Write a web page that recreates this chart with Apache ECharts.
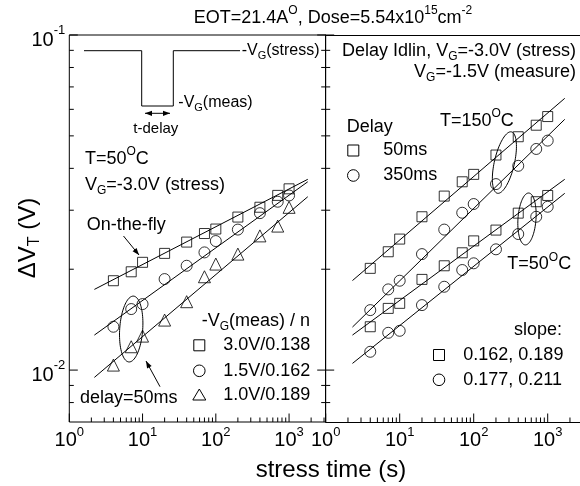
<!DOCTYPE html>
<html><head><meta charset="utf-8">
<script src="https://cdn.jsdelivr.net/npm/echarts@6/dist/echarts.min.js"></script>
<style>html,body{margin:0;padding:0;background:#fff}#c{width:580px;height:486px}</style>
</head><body><div id="c"></div>
<script>
// ---------- data ----------
const TIMES = [4, 7, 10, 20, 40, 70, 100, 200, 400, 700, 1000];
// left panel (T=50C, on-the-fly / delay=50ms)
const LEFT_SQ = [0.01848, 0.01965, 0.02097, 0.0223, 0.0241, 0.02556, 0.02636, 0.02862, 0.03062, 0.03322, 0.03475];
const LEFT_CI = [0.01347, 0.01521, 0.01574, 0.01869, 0.02048, 0.02245, 0.02427, 0.02626, 0.0294, 0.0318, 0.0332];
const LEFT_TR = [0.01035, 0.01174, 0.01263, 0.0141, 0.016, 0.01899, 0.02072, 0.02219, 0.02515, 0.0269, 0.0306];
// right panel
const R150_SQ = [0.02012, 0.02255, 0.0246, 0.02868, 0.03306, 0.03647, 0.03838, 0.04383, 0.0497, 0.0538, 0.0571];
const R150_CI = [0.0151, 0.01741, 0.01848, 0.02219, 0.02626, 0.02948, 0.0313, 0.0359, 0.0407, 0.0457, 0.0484];
const R50_SQ = [0.01347, 0.01528, 0.01582, 0.01865, 0.02048, 0.02239, 0.0243, 0.02617, 0.0294, 0.0318, 0.0332];
const R50_CI = [0.01134, 0.01292, 0.0131, 0.01563, 0.01773, 0.01989, 0.02083, 0.02293, 0.02547, 0.02868, 0.03072];
// fitted lines (start/end)
const LEFT_FIT_T = [2.2, 1800];
const LEFT_FIT_SQ = [0.01741, 0.0371];
const LEFT_FIT_CI = [0.01272, 0.03647];
const LEFT_FIT_TR = [0.00951, 0.03291];
const RIGHT_FIT_T = [2.3, 1700];
const R150_FIT_SQ = [0.0185, 0.06471];
const R150_FIT_CI = [0.01344, 0.05602];
const R50_FIT_SQ = [0.01272, 0.0371];
const R50_FIT_CI = [0.01047, 0.03369];
// ellipse centres
const ELL_LEFT = [7, 0.01326];
const ELL_R150 = [260, 0.04162];
const ELL_R50 = [525, 0.02825];
// ticks
const X_MAJOR = [1, 10, 100, 1000];
const X_MINOR = [2,3,4,5,6,7,8,9,20,30,40,50,60,70,80,90,200,300,400,500,600,700,800,900,2000,3000];
const Y_MAJOR = [0.01, 0.1];
const Y_MINOR = [0.008,0.009,0.02,0.03,0.04,0.05,0.06,0.07,0.08,0.09];
const X_MIN = 1, X_MAX_L = Math.pow(10, 3.5), X_MAX_R = 2733, Y_MIN = 0.007, Y_MAX = 0.1;

// ---------- chart ----------
const FONT = '"Liberation Sans", Arial, sans-serif';
const chart = echarts.init(document.getElementById('c'), null, {renderer: 'canvas'});

function pow10Label(v) {
  const l = Math.log10(v), e = Math.round(l);
  if (Math.abs(l - e) > 1e-6) return '';
  return '{b|10}{s|' + e + '}';
}
const xRich = {b: {fontSize: 20, fontFamily: FONT, color: '#000'},
               s: {fontSize: 13, fontFamily: FONT, color: '#000', padding: [0, 0, 15, 0]}};
const yRich = {b: {fontSize: 20, fontFamily: FONT, color: '#000', padding: [11, 0, 0, 0]},
               s: {fontSize: 13, fontFamily: FONT, color: '#000', padding: [0, 0, 9, 0]}};
const AXLINE = {show: true, lineStyle: {color: '#000', width: 1}};

function xAxisDef(gi, max, showLine) {
  return {type: 'log', logBase: 10, gridIndex: gi, min: X_MIN, max: max,
    axisLine: showLine ? AXLINE : {show: false}, axisTick: {show: false}, splitLine: {show: false},
    axisLabel: {formatter: pow10Label, rich: xRich, margin: 4, showMaxLabel: false}};
}
function yAxisDef(gi, labels, showLine) {
  return {type: 'log', logBase: 10, gridIndex: gi, min: Y_MIN, max: Y_MAX,
    axisLine: showLine ? AXLINE : {show: false}, axisTick: {show: false}, splitLine: {show: false},
    axisLabel: labels ? {formatter: pow10Label, rich: yRich, margin: 4} : {show: false}};
}

function tickSeries(gi, xs, ys, len, xMax, bothSides) {
  const data = xs.filter(t => t <= xMax).map(t => [t, Y_MIN, 0]).concat(ys.map(v => [X_MIN, v, 1]));
  const st = {stroke: '#000', lineWidth: 1};
  return {type: 'custom', xAxisIndex: gi, yAxisIndex: gi, silent: true, clip: false, z: 6,
    data: data, encode: {x: 0, y: 1},
    renderItem: function (params, api) {
      if (api.value(2) === 0) {
        const p = api.coord([api.value(0), Y_MIN]);
        return {type: 'line', shape: {x1: p[0], y1: p[1], x2: p[0], y2: p[1] - len}, style: st};
      }
      const a = api.coord([X_MIN, api.value(1)]), b = api.coord([xMax, api.value(1)]);
      const kids = [{type: 'line', shape: {x1: a[0], y1: a[1], x2: a[0] + len, y2: a[1]}, style: st}];
      if (bothSides) kids.push({type: 'line', shape: {x1: b[0], y1: b[1], x2: b[0] - len, y2: b[1]}, style: st});
      return {type: 'group', children: kids};
    }};
}
function scat(gi, ys, sym, size) {
  return {type: 'scatter', xAxisIndex: gi, yAxisIndex: gi, silent: true, z: 4,
    data: TIMES.map((t, i) => [t, ys[i]]), symbol: sym, symbolSize: size,
    itemStyle: {color: 'rgba(0,0,0,0)', borderColor: '#000', borderWidth: 1}};
}
function fit(gi, ts, vs) {
  return {type: 'line', xAxisIndex: gi, yAxisIndex: gi, silent: true, z: 3,
    data: ts.map((t, i) => [t, vs[i]]), symbol: 'none', showSymbol: false,
    lineStyle: {color: '#000', width: 1}};
}
function ellipse(gi, c, rx, ry, tiltDeg) {
  return {type: 'custom', xAxisIndex: gi, yAxisIndex: gi, silent: true, clip: false, z: 5,
    data: [c], encode: {x: 0, y: 1},
    renderItem: function (params, api) {
      const p = api.coord([api.value(0), api.value(1)]);
      const a = tiltDeg * Math.PI / 180, pts = [];
      for (let i = 0; i < 90; i++) {
        const f = i / 90 * 2 * Math.PI, ex = rx * Math.cos(f), ey = ry * Math.sin(f);
        pts.push([p[0] + ex * Math.cos(a) - ey * Math.sin(a), p[1] + ex * Math.sin(a) + ey * Math.cos(a)]);
      }
      return {type: 'polygon', shape: {points: pts}, style: {fill: 'none', stroke: '#000', lineWidth: 1}};
    }};
}

// ---------- annotations ----------
function rich(fs) {
  const ss = Math.round(fs * 0.66);
  return {n: {fontSize: fs, fontFamily: FONT, color: '#000'},
          sp: {fontSize: ss, fontFamily: FONT, color: '#000', padding: [0, 0, Math.round(fs * 0.8), 0]},
          sb: {fontSize: ss, fontFamily: FONT, color: '#000', padding: [Math.round(fs * 0.6), 0, 0, 0]}};
}
function txt(x, y, text, fs, align, extra) {
  return Object.assign({type: 'text', x: x, y: y, silent: true, z: 10,
    style: {text: text, fill: '#000', fontSize: fs, fontFamily: FONT, textAlign: align || 'left',
            textVerticalAlign: 'middle', rich: rich(fs)}}, extra || {});
}
function arrow(x1, y1, x2, y2, both) {
  const els = [{type: 'line', shape: {x1: x1, y1: y1, x2: x2, y2: y2}, style: {stroke: '#000', lineWidth: 1}}];
  const head = (tx, ty, fx, fy) => {
    const ang = Math.atan2(ty - fy, tx - fx), L = 7, W = 2.6;
    const bx = tx - L * Math.cos(ang), by = ty - L * Math.sin(ang);
    return {type: 'polygon', shape: {points: [[tx, ty], [bx + W * Math.sin(ang), by - W * Math.cos(ang)],
      [bx - W * Math.sin(ang), by + W * Math.cos(ang)]]}, style: {fill: '#000'}};
  };
  els.push(head(x2, y2, x1, y1));
  if (both) els.push(head(x1, y1, x2, y2));
  return {type: 'group', silent: true, children: els};
}
const sym = {
  sq: (x, y) => ({type: 'rect', shape: {x: x - 5.5, y: y - 5.5, width: 11, height: 11}, style: {fill: 'none', stroke: '#000', lineWidth: 1}}),
  ci: (x, y) => ({type: 'circle', shape: {cx: x, cy: y, r: 5.8}, style: {fill: 'none', stroke: '#000', lineWidth: 1}}),
  tr: (x, y) => ({type: 'polygon', shape: {points: [[x, y - 6], [x + 6.5, y + 5], [x - 6.5, y + 5]]}, style: {fill: 'none', stroke: '#000', lineWidth: 1}})
};

const graphics = [
  txt(333, 18, '{n|EOT=21.4A}{sp|O}{n|, Dose=5.54x10}{sp|15}{n|cm}{sp|-2}', 18, 'center'),
  txt(28, 238, '{n|ΔV}{sb|T}{n| (V)}', 24, 'center', {rotation: Math.PI / 2}),
  txt(331, 470, '{n|stress time (s)}', 24, 'center'),
  // inset pulse
  {type: 'polyline', silent: true, shape: {points: [[84, 50.7], [141.7, 50.7], [141.7, 106], [173.3, 106], [173.3, 50.7], [240, 50.7]]},
   style: {fill: 'none', stroke: '#000', lineWidth: 1}},
  txt(241.7, 51, '{n|-V}{sb|G}{n|(stress)}', 16),
  txt(178.3, 102.5, '{n|-V}{sb|G}{n|(meas)}', 16),
  arrow(145, 113.3, 170, 113.3, true),
  txt(133.3, 129, '{n|t-delay}', 15),
  txt(85, 159, '{n|T=50}{sp|O}{n|C}', 18),
  txt(85, 185.3, '{n|V}{sb|G}{n|=-3.0V (stress)}', 18),
  txt(86.7, 225, '{n|On-the-fly}', 18),
  arrow(123.5, 236, 139, 255, false),
  txt(80, 398, '{n|delay=50ms}', 18),
  arrow(160, 386.7, 146, 361, false),
  txt(201.7, 321, '{n|-V}{sb|G}{n|(meas) / n}', 18),
  sym.sq(199.3, 345.3), txt(223.3, 345.3, '{n|3.0V/0.138}', 18),
  sym.ci(199.3, 370.8), txt(223.3, 370.8, '{n|1.5V/0.162}', 18),
  sym.tr(199.3, 395), txt(223.3, 395, '{n|1.0V/0.189}', 18),
  // right panel
  txt(576, 51.2, '{n|Delay Idlin, V}{sb|G}{n|=-3.0V (stress)}', 18, 'right'),
  txt(576, 72.2, '{n|V}{sb|G}{n|=-1.5V (measure)}', 18, 'right'),
  txt(440, 121, '{n|T=150}{sp|O}{n|C}', 18),
  txt(346.7, 126.7, '{n|Delay}', 18),
  sym.sq(353.3, 150.5), txt(383.3, 150.5, '{n|50ms}', 18),
  sym.ci(353.3, 175.5), txt(383.3, 175.5, '{n|350ms}', 18),
  txt(507.3, 264.5, '{n|T=50}{sp|O}{n|C}', 18),
  txt(514, 330.5, '{n|slope:}', 18),
  sym.sq(439, 355), txt(463.3, 355, '{n|0.162, 0.189}', 18),
  sym.ci(439, 379.8), txt(463.3, 379.8, '{n|0.177, 0.211}', 18)
];

const topAxisR = {type: 'log', logBase: 10, gridIndex: 1, position: 'top', min: X_MIN, max: X_MAX_R,
  axisLine: AXLINE, axisTick: {show: false}, axisLabel: {show: false}, splitLine: {show: false}};

const option = {
  animation: false,
  backgroundColor: '#fff',
  textStyle: {fontFamily: FONT},
  grid: [
    {left: 69.3, top: 35, width: 256.4, height: 387, show: true, borderColor: '#000', borderWidth: 1, backgroundColor: 'transparent'},
    {left: 325.7, top: 35, right: 0, height: 387, show: false}
  ],
  xAxis: [xAxisDef(0, X_MAX_L, false), xAxisDef(1, X_MAX_R, true), topAxisR],
  yAxis: [yAxisDef(0, true, false), yAxisDef(1, false, true)],
  series: [
    tickSeries(0, X_MINOR, Y_MINOR, 4.5, X_MAX_L, true), tickSeries(0, X_MAJOR, Y_MAJOR, 8.5, X_MAX_L, true),
    tickSeries(1, X_MINOR, Y_MINOR, 4.5, X_MAX_R, false), tickSeries(1, X_MAJOR, Y_MAJOR, 8.5, X_MAX_R, false),
    fit(0, LEFT_FIT_T, LEFT_FIT_SQ), fit(0, LEFT_FIT_T, LEFT_FIT_CI), fit(0, LEFT_FIT_T, LEFT_FIT_TR),
    scat(0, LEFT_SQ, 'rect', 10), scat(0, LEFT_CI, 'circle', 11), scat(0, LEFT_TR, 'triangle', 12),
    fit(1, RIGHT_FIT_T, R150_FIT_SQ), fit(1, RIGHT_FIT_T, R150_FIT_CI), fit(1, RIGHT_FIT_T, R50_FIT_SQ), fit(1, RIGHT_FIT_T, R50_FIT_CI),
    scat(1, R150_SQ, 'rect', 10), scat(1, R150_CI, 'circle', 11), scat(1, R50_SQ, 'rect', 10), scat(1, R50_CI, 'circle', 11),
    ellipse(0, ELL_LEFT, 11.5, 33, 4), ellipse(1, ELL_R150, 10, 31.5, 13), ellipse(1, ELL_R50, 9, 26, 4)
  ],
  graphic: graphics
};
chart.setOption(option);
</script></body></html>
